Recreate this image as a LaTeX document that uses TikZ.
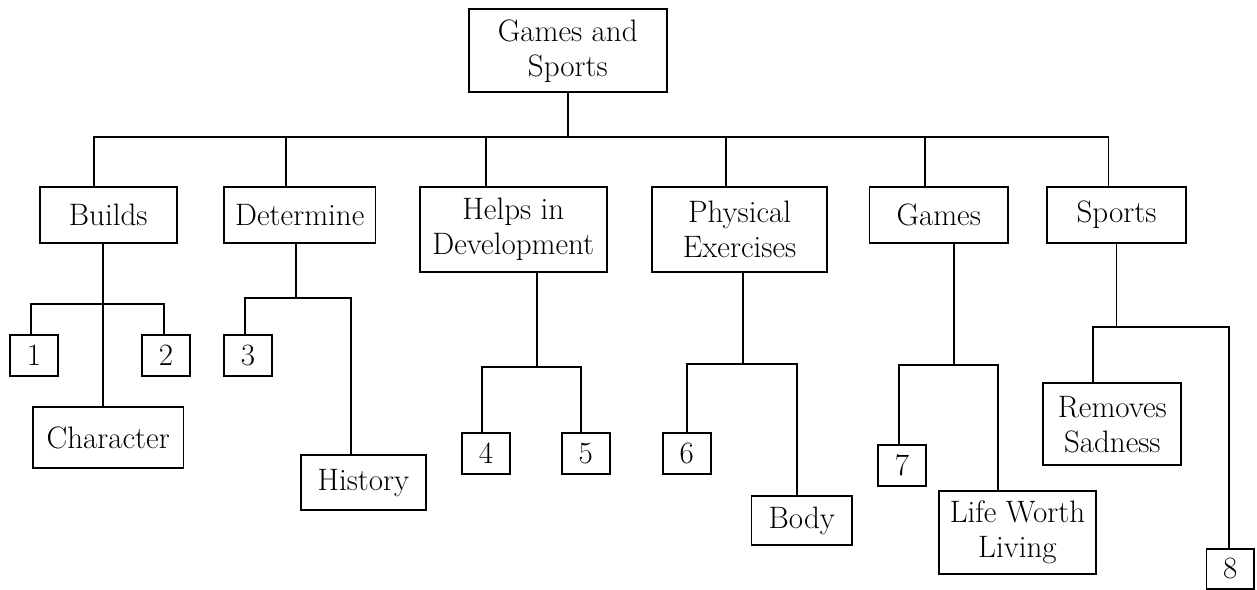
\documentclass[tikz,border=0pt]{standalone}
\usepackage{tikz}
\tikzstyle{box} = [rectangle, draw=black, line width=0.9pt, inner sep=0pt, text centered, align=center, font=\fontsize{15.5}{17.5}\selectfont]
\tikzstyle{numbox} = [box, minimum width=24pt, minimum height=20.5pt]
\tikzstyle{shortbox} = [box, minimum height=28pt]
\tikzstyle{tallbox} = [box, minimum height=42.5pt]
\tikzstyle{joint} = [coordinate]
\tikzstyle{link} = [line width=0.9pt]
\begin{document}
\begin{tikzpicture}
        \useasboundingbox (0,0) rectangle (628.5pt,-294.5pt);
        \node[box, minimum width=99.2pt, minimum height=41.65pt](root) at (283.9pt,-25.35pt){Games and\\Sports};
        \node[shortbox, below of=root, xshift=-229.8pt, yshift=-53.55pt, minimum width=68.5pt](builds){Builds};
        \node[shortbox, below of=root, xshift=-134pt, yshift=-53.55pt, minimum width=75.75pt](determine){Determine};
        \node[tallbox, below of=root, xshift=-27.25pt, yshift=-60.8pt, minimum width=93.7pt](helps){Helps in\\Development};
        \node[tallbox, below of=root, xshift=85.9pt, yshift=-60.8pt, minimum width=87.75pt](physical){Physical\\Exercises};
        \node[shortbox, below of=root, xshift=185.45pt, yshift=-53.55pt, minimum width=69.3pt](games){Games};
        \node[shortbox, below of=root, xshift=274.35pt, yshift=-53.55pt, minimum width=69.2pt](sports){Sports};

        \node[numbox, below of=builds, xshift=-37.05pt, yshift=-42.05pt](one){1};
        \node[numbox, below of=builds, xshift=28.85pt, yshift=-42.05pt](two){2};
        \node[box, below of=builds, yshift=-83.05pt, minimum width=75.3pt, minimum height=30.65pt](character){Character};
        \node[numbox, below of=determine, xshift=-25.85pt, yshift=-41.95pt](three){3};
        \node[box, below of=determine, xshift=31.75pt, yshift=-105.55pt, minimum width=62.5pt, minimum height=27.65pt](history){History};
        \node[numbox, below of=helps, xshift=-13.7pt, yshift=-83.65pt](four){4};
        \node[numbox, below of=helps, xshift=36.2pt, yshift=-83.65pt](five){5};
        \node[numbox, below of=physical, xshift=-26.4pt, yshift=-83.65pt](six){6};
        \node[box, below of=physical, xshift=31.1pt, yshift=-117.15pt, minimum width=50.4pt, minimum height=24.65pt](body){Body};
        \node[numbox, below of=games, xshift=-18.35pt, yshift=-96.95pt](seven){7};
        \node[box, below of=games, xshift=39.35pt, yshift=-130.45pt, minimum width=78.5pt, minimum height=41.8pt](life){Life Worth\\Living};
        \node[box, below of=sports, xshift=-2.1pt, yshift=-76.3pt, minimum width=69pt, minimum height=41.15pt](removes){Removes\\Sadness};
        \node[numbox, below of=sports, xshift=56.85pt, yshift=-148.65pt, minimum width=23.7pt, minimum height=20.15pt](eight){8};

        \node[joint, below of=root, yshift=-14.55pt](bus){};
        \node[joint, below of=builds, xshift=-2.45pt, yshift=-16.35pt](jbuilds){};
        \node[joint, below of=determine, xshift=-1.75pt, yshift=-13.35pt](jdetermine){};
        \node[joint, below of=helps, xshift=11.7pt, yshift=-40.6pt](jhelps){};
        \node[joint, below of=physical, xshift=1.65pt, yshift=-39.1pt](jphysical){};
        \node[joint, below of=games, xshift=7.6pt, yshift=-46.85pt](jgames){};
        \node[joint, below of=sports, yshift=-27.55pt](jsports){};

        \draw [link] (root.south -| bus) -- (bus);
        \draw [link] ([xshift=-7pt]builds.north) |- (bus) -| ([xshift=-4pt]sports.north);
        \foreach \n/\dx in {determine/-7pt, helps/-13.7pt, physical/-7pt, games/-6.7pt}
            \draw [link] ([xshift=\dx]\n.north) -- ([xshift=\dx]\n.north |- bus);

        \draw [link] (builds.south -| jbuilds) -- (character.north -| jbuilds);
        \draw [link] ([xshift=-1.5pt]one.north) |- (jbuilds) -| ([xshift=-1.1pt]two.north);
        \draw [link] (determine.south -| jdetermine) -- (jdetermine);
        \draw [link] ([xshift=-1.6pt]three.north) |- (jdetermine) -| ([xshift=-6pt]history.north);
        \draw [link] (helps.south -| jhelps) -- (jhelps);
        \draw [link] ([xshift=-2.1pt]four.north) |- (jhelps) -| ([xshift=-2.4pt]five.north);
        \draw [link] (physical.south -| jphysical) -- (jphysical);
        \draw [link] (six.north) |- (jphysical) -| ([xshift=-2.5pt]body.north);
        \draw [link] (games.south -| jgames) -- (jgames);
        \draw [link] ([xshift=-1.4pt]seven.north) |- (jgames) -| ([xshift=-9.7pt]life.north);
        \draw [link] (sports.south -| jsports) -- (jsports);
        \draw [link] ([xshift=-9.8pt]removes.north) |- (jsports) -| ([xshift=-0.8pt]eight.north);
\end{tikzpicture}
\end{document}
